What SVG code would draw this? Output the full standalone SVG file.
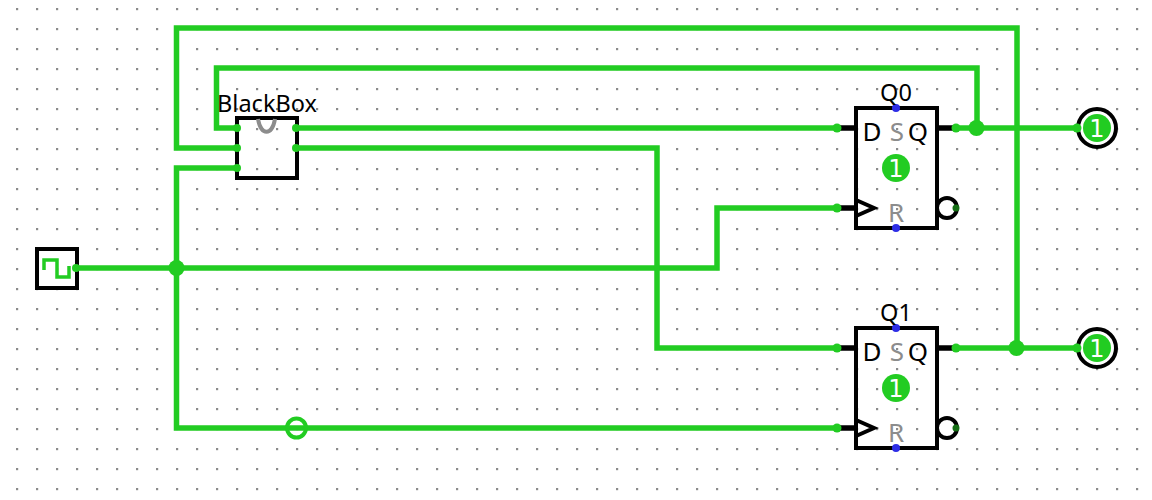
<svg xmlns="http://www.w3.org/2000/svg" width="1152" height="500" viewBox="0 0 1152 500">
<style>
.w{fill:none;stroke:#22cc22;stroke-width:5.5;stroke-linejoin:miter}
.j{fill:#22cc22}
.b{fill:none;stroke:#000;stroke-width:4}
.box{fill:none;stroke:#000;stroke-width:4}
.s{fill:none;stroke:#000;stroke-width:5.5}
.p{fill:#2d2de6}
text{font-family:"Noto Sans",sans-serif;font-size:23.5px;text-anchor:middle;fill:#000}
text.l{font-size:26px}
text.g{fill:#8c8c8c;font-size:26px}
text.v{fill:#fff;font-family:"DejaVu Sans",sans-serif;font-size:24px}
</style>
<defs>
<pattern id="grid" x="16" y="8" width="20" height="20" patternUnits="userSpaceOnUse">
<rect x="0" y="0" width="2.2" height="2.2" fill="#8a8a8a"/>
</pattern>
<g id="ff">
<path class="s" d="M836 128H856M937 128H957M836 208H857"/>
<rect class="box" x="856" y="108" width="81" height="120"/>
<path class="b" d="M856 200L874 208L856 216"/>
<circle cx="947" cy="208" r="10" fill="none" stroke="#000" stroke-width="4"/>
<circle cx="956" cy="208" r="3.5" fill="#146e14"/>
<circle class="p" cx="896" cy="108" r="4"/>
<circle class="p" cx="896" cy="228" r="4"/>
<text class="l" x="872" y="141">D</text>
<text class="g" x="897" y="141">S</text>
<text class="l" x="918" y="141">Q</text>
<text class="g" x="896" y="222">R</text>
<circle class="j" cx="896" cy="168" r="14"/>
<text class="v" x="896" y="177">1</text>
<circle class="j" cx="837" cy="128" r="4.5"/>
<circle class="j" cx="837" cy="208" r="4.5"/>
<circle class="j" cx="956" cy="128" r="4.5"/>
</g>
<g id="led">
<circle cx="1097" cy="128" r="19" fill="none" stroke="#000" stroke-width="4"/>
<circle class="j" cx="1097" cy="128" r="14"/>
<text class="v" x="1097" y="137">1</text>
<circle class="j" cx="1077" cy="128" r="4.5"/>
</g>
</defs>
<rect width="1152" height="500" fill="#fff"/>
<rect width="1152" height="500" fill="url(#grid)"/>
<g id="connectors">
<path class="w" d="M237 128H216.500V68H977V128"/>
<path class="w" d="M237 148H176.500V28H1017V348"/>
<path class="w" d="M237 168H176.500V428H837"/>
<path class="w" d="M77 268H717V208H837"/>
<path class="w" d="M297 128H837"/>
<path class="w" d="M297 148H657V348H837"/>
<path class="w" d="M957 128H1077"/>
<path class="w" d="M957 348H1077"/>
<circle class="j" cx="176.500" cy="268" r="8"/>
<circle class="j" cx="976.500" cy="128" r="8"/>
<circle class="j" cx="1016.500" cy="348" r="8"/>
</g>
<g id="clock">
<rect class="box" x="37" y="249" width="40" height="39"/>
<path d="M44 270V260H57V277H69V266" fill="none" stroke="#22cc22" stroke-width="3.5"/>
<circle class="j" cx="76" cy="268" r="4"/>
</g>
<g id="blackbox">
<rect class="box" x="237" y="118" width="60" height="60"/>
<path d="M258 119C261 136 272 136 275 119" fill="none" stroke="#8c8c8c" stroke-width="4"/>
<text x="267" y="112">BlackBox</text>
<circle class="j" cx="237" cy="128" r="4"/>
<circle class="j" cx="237" cy="148" r="4"/>
<circle class="j" cx="237" cy="168" r="4"/>
<circle class="j" cx="296" cy="128" r="4"/>
<circle class="j" cx="296" cy="148" r="4"/>
</g>
<g id="ff0">
<use href="#ff"/>
<text x="896" y="101">Q0</text>
</g>
<g id="ff1">
<use href="#ff" y="220"/>
<text x="896" y="321">Q1</text>
</g>
<g id="out0"><use href="#led"/></g>
<g id="out1"><use href="#led" y="220"/></g>
<g id="inverter"><circle cx="296.500" cy="428" r="9.500" fill="none" stroke="#22cc22" stroke-width="4"/></g>
</svg>
